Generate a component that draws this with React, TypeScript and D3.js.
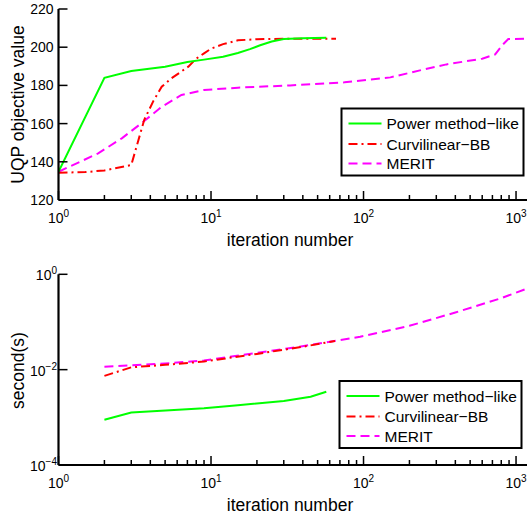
import * as d3 from 'd3';

// top panel: UQP objective value vs iteration
const powerIterTop = [1, 2, 3, 5, 7, 9, 12, 15, 18, 21, 25, 30, 40, 57];
const powerObj = [134.8, 184, 187.5, 189.8, 192.2, 193.5, 195, 197, 199, 201, 203, 204.3, 204.7, 205];

const curvIterTop = [1, 1.5, 2, 3, 3.65, 4.2, 4.75, 5.5, 7.1, 8, 9, 10, 12, 15, 20, 30, 66];
const curvObj = [134.3, 134.6, 135.5, 138.3, 162, 172, 179.3, 183.7, 189.8, 194, 196.8, 199.2, 201.6, 203.6, 204.2, 204.4, 204.4];

const meritIterTop = [1, 1.82, 2.6, 3.5, 4.75, 6.4, 9, 15, 33, 75, 150, 250, 350, 600, 730, 810, 890, 1180];
const meritObj = [134.8, 144.4, 152.3, 160.2, 168.8, 175, 177.6, 178.8, 180, 181.6, 184.2, 188.4, 191, 194, 196.2, 201, 204.3, 204.4];

// bottom panel: time in seconds vs iteration
const powerIterBot = [2, 3, 9, 15, 30, 45, 57];
const powerSec = [8.9e-4, 1.26e-3, 1.55e-3, 1.8e-3, 2.2e-3, 2.7e-3, 3.45e-3];

const curvIterBot = [2, 3, 5, 9, 20, 40, 65];
const curvSec = [7.4e-3, 1.12e-2, 1.26e-2, 1.48e-2, 2.14e-2, 3.02e-2, 3.98e-2];

const meritIterBot = [2, 3, 5, 9, 19, 38, 95, 200, 400, 800, 1180];
const meritSec = [1.15e-2, 1.23e-2, 1.35e-2, 1.55e-2, 2.19e-2, 3.02e-2, 4.9e-2, 8.3e-2, 0.158, 0.316, 0.5];

const objTicks = [120, 140, 160, 180, 200, 220];
const secTicks = [1e-4, 1e-2, 1];
const legendNames = ['Power method\u2212like', 'Curvilinear\u2212BB', 'MERIT'];

const FONT = '"Liberation Sans", Arial, Helvetica, sans-serif';
const GREEN = '#00ff00';
const RED = '#ff0000';
const MAGENTA = '#ff00ff';
const STYLES = [
  { color: GREEN, dash: undefined },
  { color: RED, dash: '9,4,2,4' },
  { color: MAGENTA, dash: '9,5' },
];

const xScale = d3.scaleLog().domain([1, 1180]).range([58.5, 527]);
const yTop = d3.scaleLinear().domain([120, 220]).range([200, 9]);
const yBot = d3.scaleLog().domain([1e-4, 1]).range([465, 274.3]);

function Pow10({ x, y, exp, anchor }: { x: number; y: number; exp: number; anchor: string }) {
  return (
    <text x={x} y={y} textAnchor={anchor} fontSize={14} fontFamily={FONT}>
      10<tspan dy={-6} fontSize={10}>{exp < 0 ? '\u2212' + Math.abs(exp) : exp}</tspan>
    </text>
  );
}

function XAxis({ y0 }: { y0: number }) {
  const ticks = xScale.ticks().filter(t => t <= 1180);
  return (
    <g>
      {ticks.map((t, i) => {
        const major = Math.abs(Math.log10(t) - Math.round(Math.log10(t))) < 1e-9;
        return <line key={i} x1={xScale(t)} x2={xScale(t)} y1={y0} y2={y0 - (major ? 9 : 5)} stroke="#000" strokeWidth={1.5} />;
      })}
      <line x1={58.5} x2={527} y1={y0} y2={y0} stroke="#000" strokeWidth={2.2} />
      {[0, 1, 2, 3].map(e => (
        <Pow10 key={e} x={xScale(Math.pow(10, e))} y={y0 + 23} exp={e} anchor="middle" />
      ))}
      <text x={290} y={y0 + 46} textAnchor="middle" fontSize={17.5} fontFamily={FONT}>iteration number</text>
    </g>
  );
}

function Series({ xs, ys, y, idx }: { xs: number[]; ys: number[]; y: any; idx: number }) {
  const line = d3.line<number>().x((_, i) => xScale(xs[i])).y(v => y(v));
  const s = STYLES[idx];
  return <path d={line(ys) || ''} fill="none" stroke={s.color} strokeWidth={2} strokeDasharray={s.dash} />;
}

function Legend({ x, y, h }: { x: number; y: number; h: number }) {
  const rows = [y + 15, y + 35.5, y + 55];
  return (
    <g>
      <rect x={x} y={y} width={182} height={h} fill="#fff" stroke="#000" strokeWidth={2} />
      {legendNames.map((name, i) => (
        <g key={name}>
          <line x1={x + 7} x2={x + 40} y1={rows[i]} y2={rows[i]} stroke={STYLES[i].color} strokeWidth={2} strokeDasharray={STYLES[i].dash} />
          <text x={x + 45} y={rows[i] + 5.5} fontSize={15.5} fontFamily={FONT}>{name}</text>
        </g>
      ))}
    </g>
  );
}

export default function App() {
  return (
    <div style={{ position: 'absolute', left: 0, top: 0 }}>
      <svg width={527} height={519} style={{ display: 'block', background: '#fff' }}>
        <defs>
          <clipPath id="clipTop"><rect x={58.5} y={0} width={470} height={201} /></clipPath>
          <clipPath id="clipBot"><rect x={58.5} y={270} width={470} height={196} /></clipPath>
        </defs>

        {/* top panel */}
        <g clipPath="url(#clipTop)">
          <Series xs={meritIterTop} ys={meritObj} y={yTop} idx={2} />
          <Series xs={curvIterTop} ys={curvObj} y={yTop} idx={1} />
          <Series xs={powerIterTop} ys={powerObj} y={yTop} idx={0} />
        </g>
        {objTicks.map(t => (
          <g key={t}>
            <line x1={58.5} x2={67.5} y1={yTop(t)} y2={yTop(t)} stroke="#000" strokeWidth={1.5} />
            <text x={53.5} y={yTop(t) + 5} textAnchor="end" fontSize={14} fontFamily={FONT}>{t}</text>
          </g>
        ))}
        <line x1={58.5} x2={58.5} y1={9} y2={200} stroke="#000" strokeWidth={2.2} />
        <XAxis y0={200} />
        <text transform="translate(24,104.5) rotate(-90)" textAnchor="middle" fontSize={17.5} fontFamily={FONT}>UQP objective value</text>
        <Legend x={341.5} y={108.5} h={67} />

        {/* bottom panel */}
        <g clipPath="url(#clipBot)">
          <Series xs={meritIterBot} ys={meritSec} y={yBot} idx={2} />
          <Series xs={curvIterBot} ys={curvSec} y={yBot} idx={1} />
          <Series xs={powerIterBot} ys={powerSec} y={yBot} idx={0} />
        </g>
        {secTicks.map(t => (
          <g key={t}>
            <line x1={58.5} x2={67.5} y1={yBot(t)} y2={yBot(t)} stroke="#000" strokeWidth={1.5} />
            <Pow10 x={57} y={yBot(t) + 6} exp={Math.round(Math.log10(t))} anchor="end" />
          </g>
        ))}
        <line x1={58.5} x2={58.5} y1={274.3} y2={465} stroke="#000" strokeWidth={2.2} />
        <XAxis y0={465} />
        <text transform="translate(24,370.5) rotate(-90)" textAnchor="middle" fontSize={17.5} fontFamily={FONT}>second(s)</text>
        <Legend x={339.5} y={381} h={67} />
      </svg>
    </div>
  );
}
